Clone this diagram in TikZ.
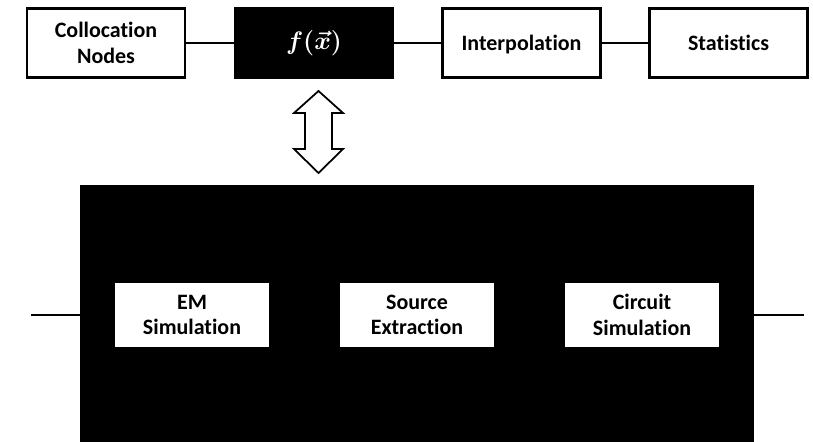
\documentclass[tikz,border=0pt]{standalone}
\usepackage{bm}
\usepackage{fontspec}
\setmainfont{Carlito}[Ligatures=NoCommon]
\usetikzlibrary{positioning}
\tikzset{
  block/.style={draw, line width=1.2pt, minimum width=3.16cm, minimum height=1.38cm,
    align=center, font=\bfseries\fontsize{12.5}{14.5}\selectfont},
  darkblock/.style={block, fill=black, text=white, font=\fontsize{15}{18}\selectfont},
  simblock/.style={fill=white, minimum width=3.08cm, minimum height=1.28cm,
    align=center, font=\bfseries\fontsize{12.5}{14.5}\selectfont},
  link/.style={line width=0.6pt}
}
\begin{document}
\begin{tikzpicture}
        \useasboundingbox (0,0) rectangle (16.26,-8.84);
        % top row
        \node[block] (coll) at (2.12,-0.86) {Collocation\\Nodes};
        \node[darkblock] (fx) at (6.28,-0.86) {$\bm{f(\vec{x})}$};
        \node[block, text depth=0pt] (interp) at (10.43,-0.86) {Interpolation};
        \node[block, text depth=0pt] (stats) at (14.57,-0.86) {Statistics};
        \draw[link] (coll) -- (fx);
        \draw[link] (fx) -- (interp);
        \draw[link] (interp) -- (stats);
        % two-way arrow
        \draw[line width=1pt, fill=white] (6.37,-1.82) -- (6.86,-2.26) -- (6.64,-2.26) -- (6.64,-2.98)
            -- (6.86,-2.98) -- (6.37,-3.46) -- (5.88,-2.98) -- (6.10,-2.98) -- (6.10,-2.26)
            -- (5.88,-2.26) -- cycle;
        % simulation chain
        \node[fill=black, minimum width=13.48cm, minimum height=5.14cm, inner sep=0pt] (sim) at (8.34,-6.27) {};
        \node[simblock] (em) at (3.84,-6.3) {EM\\Simulation};
        \node[simblock] (src) at (8.34,-6.3) {Source\\Extraction};
        \node[simblock] (circ) at (12.84,-6.3) {Circuit\\Simulation};
        \coordinate (in) at (0.62,-6.3);
        \coordinate (out) at (16.08,-6.3);
        \draw[link] (in) -- (in -| sim.west);
        \draw[link] (out -| sim.east) -- (out);
\end{tikzpicture}
\end{document}
